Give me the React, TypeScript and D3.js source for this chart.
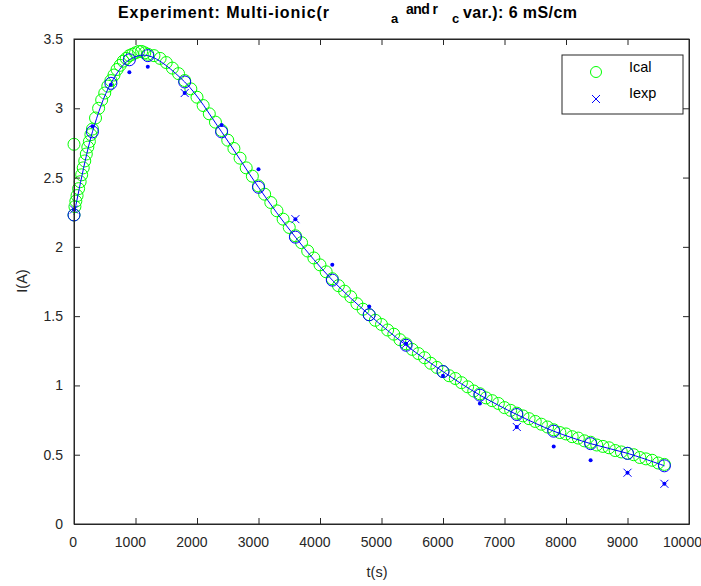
import React, { useRef, useEffect } from 'react';
import * as d3 from 'd3';

// Ical (green circles): time in s, current in A
const icalT = [
  0, 0, 15, 30, 50, 75, 100, 125, 150, 175, 200, 225, 250, 275, 300, 350, 400, 450, 500, 550, 600,
  650, 700, 750, 800, 850, 900, 950, 1000, 1050, 1100, 1150, 1200,
  1300, 1400, 1500, 1600, 1700, 1800, 1900, 2000, 2100, 2200, 2300, 2400, 2500, 2600, 2700, 2800,
  2900, 3000, 3100, 3200, 3300, 3400, 3500, 3600, 3700, 3800, 3900, 4000, 4100, 4200, 4300, 4400,
  4500, 4600, 4700, 4800, 4900, 5000, 5100, 5200, 5300, 5400, 5500, 5600, 5700, 5800, 5900, 6000,
  6100, 6200, 6300, 6400, 6500, 6600, 6700, 6800, 6900, 7000, 7100, 7200, 7300, 7400, 7500, 7600,
  7700, 7800, 7900, 8000, 8100, 8200, 8300, 8400, 8500, 8600, 8700, 8800, 8900, 9000, 9100, 9200,
  9300, 9400, 9500, 9600,
];
const icalV = [
  2.23, 2.74, 2.29, 2.33, 2.37, 2.42, 2.47, 2.52, 2.57, 2.62, 2.67, 2.72, 2.76, 2.81, 2.85, 2.93, 3.0, 3.06, 3.11, 3.16, 3.2,
  3.24, 3.28, 3.31, 3.34, 3.36, 3.38, 3.39, 3.4, 3.41, 3.41, 3.4, 3.39,
  3.38, 3.36, 3.33, 3.29, 3.25, 3.2, 3.14, 3.08, 3.02, 2.96, 2.9, 2.84, 2.77, 2.71, 2.64, 2.57,
  2.51, 2.44, 2.38, 2.32, 2.26, 2.2, 2.14, 2.08, 2.03, 1.97, 1.92, 1.87, 1.82, 1.77, 1.72, 1.68,
  1.64, 1.59, 1.55, 1.51, 1.47, 1.44, 1.4, 1.37, 1.33, 1.3, 1.26, 1.23, 1.2, 1.16, 1.13, 1.1,
  1.07, 1.05, 1.02, 0.99, 0.96, 0.94, 0.91, 0.89, 0.87, 0.84, 0.82, 0.8, 0.78, 0.76, 0.74, 0.72,
  0.7, 0.68, 0.66, 0.65, 0.63, 0.62, 0.6, 0.59, 0.57, 0.56, 0.55, 0.53, 0.52, 0.51, 0.5, 0.48,
  0.47, 0.46, 0.44, 0.43,
];

// sample times of the experiment
const expT = [0, 300, 600, 900, 1200, 1800, 2400, 3000, 3600, 4200, 4800, 5400, 6000, 6600, 7200, 7800, 8400, 9000, 9600];
// Iexp measured (dots)
const expV = [2.27, 2.87, 3.17, 3.26, 3.3, 3.11, 2.88, 2.56, 2.2, 1.87, 1.57, 1.3, 1.07, 0.87, 0.7, 0.56, 0.46, 0.37, 0.29];
// model at sample times (blue circles + line)
const modV = [2.23, 2.83, 3.18, 3.35, 3.38, 3.19, 2.83, 2.43, 2.07, 1.76, 1.51, 1.29, 1.1, 0.93, 0.79, 0.67, 0.58, 0.51, 0.42];
// times where Iexp is drawn with a cross
const crossT = [0, 1800, 3600, 5400, 7200, 9000, 9600];

const xTicks = [0, 1000, 2000, 3000, 4000, 5000, 6000, 7000, 8000, 9000, 10000];
const yTicks = [0, 0.5, 1, 1.5, 2, 2.5, 3, 3.5];

const W = 701;
const H = 586;
const FONT = "'Liberation Sans', Arial, Helvetica, sans-serif";
const AX = '#262626';

const App = () => {
  const svgRef = useRef(null);

  useEffect(() => {
    document.body.style.margin = '0';
    const svg = d3.select(svgRef.current);
    svg.selectAll('*').remove();

    const margin = { top: 39, right: 12, bottom: 62, left: 74 };
    const x = d3.scaleLinear().domain([0, 10000]).range([margin.left, W - margin.right]);
    const y = d3.scaleLinear().domain([0, 3.5]).range([H - margin.bottom, margin.top]);

    const plot = svg.append('g');

    // Ical green circles
    plot.append('g')
      .selectAll('circle')
      .data(icalT.map((t, i) => [t, icalV[i]]))
      .enter()
      .append('circle')
      .attr('cx', d => x(d[0]))
      .attr('cy', d => y(d[1]))
      .attr('r', 6)
      .attr('fill', 'none')
      .attr('stroke', '#00ff00')
      .attr('stroke-width', 1);

    const model = expT.map((t, i) => [t, modV[i]]);
    const line = d3.line()
      .x(d => x(d[0]))
      .y(d => y(d[1]))
      .curve(d3.curveCatmullRom.alpha(0.5));

    plot.append('path')
      .attr('d', line(model))
      .attr('fill', 'none')
      .attr('stroke', '#0000ff')
      .attr('stroke-width', 1);

    plot.append('g')
      .selectAll('circle')
      .data(model)
      .enter()
      .append('circle')
      .attr('cx', d => x(d[0]))
      .attr('cy', d => y(d[1]))
      .attr('r', 6)
      .attr('fill', 'none')
      .attr('stroke', '#0000ff')
      .attr('stroke-width', 1);

    const meas = expT.map((t, i) => [t, expV[i]]);
    plot.append('g')
      .selectAll('circle')
      .data(meas)
      .enter()
      .append('circle')
      .attr('cx', d => x(d[0]))
      .attr('cy', d => y(d[1]))
      .attr('r', 2)
      .attr('fill', '#0000ff');

    const cross = (g, cx, cy, s) => {
      g.append('path')
        .attr('d', `M${cx - s},${cy - s}L${cx + s},${cy + s}M${cx - s},${cy + s}L${cx + s},${cy - s}`)
        .attr('stroke', '#0000ff')
        .attr('stroke-width', 1)
        .attr('fill', 'none');
    };
    const crossG = plot.append('g');
    meas.filter(d => crossT.includes(d[0])).forEach(d => cross(crossG, x(d[0]), y(d[1]), 4));

    // axes box with inward ticks
    const fmt = d => String(d);
    const bottom = svg.append('g')
      .attr('transform', `translate(0,${H - margin.bottom})`)
      .call(d3.axisBottom(x).tickValues(xTicks).tickFormat(fmt).tickSizeInner(-6).tickSizeOuter(0).tickPadding(13));
    bottom.selectAll('text')
      .attr('dx', d => -1.4 * String(d).length);
    svg.append('g')
      .attr('transform', `translate(0,${margin.top})`)
      .call(d3.axisTop(x).tickValues(xTicks).tickFormat(() => '').tickSizeInner(-6).tickSizeOuter(0));
    svg.append('g')
      .attr('transform', `translate(${margin.left},0)`)
      .call(d3.axisLeft(y).tickValues(yTicks).tickFormat(fmt).tickSizeInner(-6).tickSizeOuter(0).tickPadding(11));
    svg.append('g')
      .attr('transform', `translate(${W - margin.right},0)`)
      .call(d3.axisRight(y).tickValues(yTicks).tickFormat(() => '').tickSizeInner(-6).tickSizeOuter(0));

    svg.selectAll('.domain').attr('stroke', AX);
    svg.selectAll('.tick line').attr('stroke', AX);
    svg.selectAll('.tick text')
      .attr('fill', AX)
      .attr('font-family', FONT)
      .attr('font-size', 14);

    svg.append('rect')
      .attr('x', margin.left)
      .attr('y', margin.top)
      .attr('width', W - margin.left - margin.right)
      .attr('height', H - margin.top - margin.bottom)
      .attr('fill', 'none')
      .attr('stroke', AX)
      .attr('stroke-width', 1);

    // axis labels
    svg.append('text')
      .attr('x', 377)
      .attr('y', 577)
      .attr('text-anchor', 'middle')
      .attr('font-family', FONT)
      .attr('font-size', 14.5)
      .attr('fill', AX)
      .text('t(s)');
    svg.append('text')
      .attr('transform', 'translate(27,281) rotate(-90)')
      .attr('text-anchor', 'middle')
      .attr('font-family', FONT)
      .attr('font-size', 14.5)
      .attr('fill', AX)
      .text('I(A)');

    // title, pieces placed like the original figure
    const title = svg.append('g')
      .attr('font-family', FONT)
      .attr('font-weight', 'bold')
      .attr('fill', '#000');
    title.append('text').attr('x', 118).attr('y', 18).attr('font-size', 16)
      .attr('textLength', 211).attr('lengthAdjust', 'spacing').text('Experiment: Multi-ionic(r');
    title.append('text').attr('x', 391).attr('y', 23).attr('font-size', 13).text('a');
    title.append('text').attr('x', 406).attr('y', 14).attr('font-size', 14)
      .attr('textLength', 32).attr('lengthAdjust', 'spacing').text('and r');
    title.append('text').attr('x', 452).attr('y', 23).attr('font-size', 13).text('c');
    title.append('text').attr('x', 463).attr('y', 18).attr('font-size', 16)
      .attr('textLength', 114).attr('lengthAdjust', 'spacing').text('var.): 6 mS/cm');

    // legend
    const lg = svg.append('g');
    lg.append('rect')
      .attr('x', 562).attr('y', 55).attr('width', 121).attr('height', 59)
      .attr('fill', '#fff').attr('stroke', AX).attr('stroke-width', 1);
    lg.append('circle')
      .attr('cx', 596).attr('cy', 72).attr('r', 5.5)
      .attr('fill', 'none').attr('stroke', '#00ff00').attr('stroke-width', 1);
    cross(lg, 596, 99, 4);
    lg.append('text').attr('x', 629).attr('y', 72).attr('font-family', FONT).attr('font-size', 14.5)
      .attr('fill', '#000').text('Ical');
    lg.append('text').attr('x', 629).attr('y', 98).attr('font-family', FONT).attr('font-size', 14.5)
      .attr('fill', '#000').text('Iexp');
  }, []);

  return (
    <svg ref={svgRef} width={W} height={H} style={{ display: 'block', background: '#fff' }}></svg>
  );
};

export default App;
